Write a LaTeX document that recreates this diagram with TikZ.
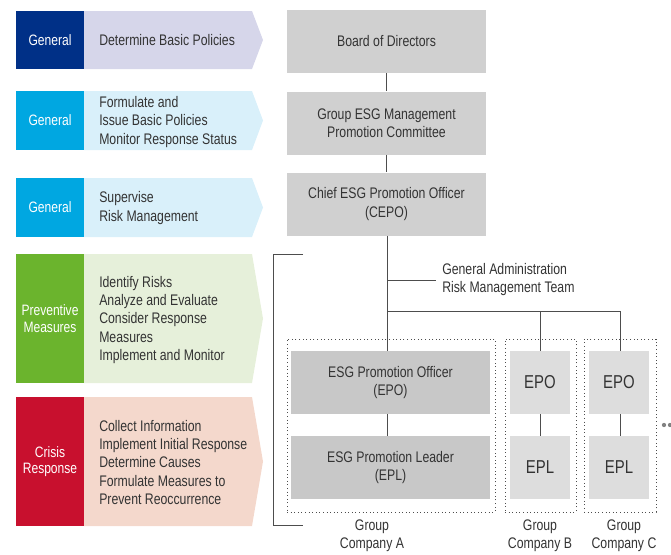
\documentclass[tikz,border=0pt]{standalone}
\usepackage{fontspec}
\setmainfont{Liberation Sans}[FakeStretch=0.8]
\usepackage{xcolor}
\usepackage{tikz}
\usetikzlibrary{positioning}
\definecolor{generalnavy}{RGB}{0, 48, 135}
\definecolor{generalcyan}{RGB}{0, 167, 225}
\definecolor{preventgreen}{RGB}{107, 180, 45}
\definecolor{crisisred}{RGB}{200, 16, 46}
\definecolor{navylight}{RGB}{214, 214, 234}
\definecolor{cyanlight}{RGB}{217, 240, 250}
\definecolor{greenlight}{RGB}{230, 240, 218}
\definecolor{redlight}{RGB}{244, 216, 204}
\definecolor{boxgray}{RGB}{208, 208, 208}
\definecolor{darkboxgray}{RGB}{200, 200, 200}
\definecolor{lightboxgray}{RGB}{221, 221, 221}
\definecolor{linegray}{RGB}{77, 77, 77}
\definecolor{textgray}{RGB}{51, 51, 51}

\begin{document}
\begin{tikzpicture}[
        x=0.75pt, y=-0.75pt,
        tag/.style={rectangle, minimum width=51pt, inner sep=0pt, text=white, align=center,
            font=\fontsize{11.3}{12.6}\selectfont},
        duty/.style={anchor=west, inner sep=0pt, text=textgray, align=left,
            font=\fontsize{11.5}{13.75}\selectfont},
        orgbox/.style={rectangle, fill=boxgray, minimum width=149.25pt, minimum height=47.25pt,
            inner sep=0pt, text=textgray, align=center, font=\fontsize{11.5}{13.75}\selectfont},
        subbox/.style={rectangle, minimum height=47.25pt, inner sep=0pt, text=textgray, align=center},
        company/.style={rectangle, draw=linegray, dotted, line width=0.7pt, minimum height=129.75pt},
        link/.style={draw=linegray, line width=0.75pt}
    ]
    \useasboundingbox (0,0) rectangle (671,554);

    % Arrow bands on the left
    \foreach \t/\b/\c in {11/69/navylight, 91/150/cyanlight, 178/237/cyanlight,
                          254/383/greenlight, 397/526/redlight} {
        \fill[\c] (84,\t) -- (252,\t) -- (263,{(\t+\b)/2}) -- (252,\b) -- (84,\b) -- cycle;
    }

    % Phase tags
    \node[tag, fill=generalnavy, minimum height=43.5pt] (t1) at (50,40) {General};
    \node[tag, fill=generalcyan, minimum height=44.25pt] (t2) at (50,120.5) {General};
    \node[tag, fill=generalcyan, minimum height=44.25pt] (t3) at (50,207.5) {General};
    \node[tag, fill=preventgreen, minimum height=96.75pt] (t4) at (50,318.5) {Preventive\\Measures};
    \node[tag, fill=crisisred, minimum height=96.75pt] (t5) at (50,461.5) {Crisis\\Response};

    % Duties
    \node[duty] (d1) at (99,40.5) {Determine Basic Policies};
    \node[duty] (d2) at (99,122) {Formulate and\\Issue Basic Policies\\Monitor Response Status};
    \node[duty] (d3) at (99,208) {Supervise\\Risk Management};
    \node[duty] (d4) at (99,320) {Identify Risks\\Analyze and Evaluate\\Consider Response\\Measures\\Implement and Monitor};
    \node[duty] (d5) at (99,462.5) {Collect Information\\Implement Initial Response\\Determine Causes\\Formulate Measures to\\Prevent Reoccurrence};

    % Group level
    \node[orgbox] (bod) at (386.5,41.5) {Board of Directors};
    \node[orgbox] (gesg) at (386.5,123) {Group ESG Management\\Promotion Committee};
    \node[orgbox] (cepo) at (386.5,204) {Chief ESG Promotion Officer\\(CEPO)};

    % Group companies
    \node[company, minimum width=156pt] (grpA) at (391,425.5) {};
    \node[company, minimum width=53.25pt] (grpB) at (540.5,425.5) {};
    \node[company, minimum width=54pt] (grpC) at (620,425.5) {};

    \node[subbox, fill=darkboxgray, minimum width=149.25pt, font=\fontsize{11.5}{13.75}\selectfont]
        (epoA) at (390.5,382.5) {ESG Promotion Officer\\(EPO)};
    \node[subbox, fill=darkboxgray, minimum width=149.25pt, font=\fontsize{11.5}{13.75}\selectfont]
        (eplA) at (390.5,467.5) {ESG Promotion Leader\\(EPL)};
    \node[subbox, fill=lightboxgray, minimum width=45pt, font=\fontsize{14}{16}\selectfont]
        (epoB) at (540,382.5) {EPO};
    \node[subbox, fill=lightboxgray, minimum width=45pt, font=\fontsize{14}{16}\selectfont]
        (eplB) at (540,467.5) {EPL};
    \node[subbox, fill=lightboxgray, minimum width=45pt, font=\fontsize{14}{16}\selectfont]
        (epoC) at (619,382.5) {EPO};
    \node[subbox, fill=lightboxgray, minimum width=45pt, font=\fontsize{14}{16}\selectfont]
        (eplC) at (619,467.5) {EPL};

    \node[duty, anchor=north west] (gart) at (442,263) {General Administration\\Risk Management Team};

    \node[text=textgray, align=center, font=\fontsize{11.5}{13.75}\selectfont] (labA) at (372,536) {Group\\Company A};
    \node[text=textgray, align=center, font=\fontsize{11.5}{13.75}\selectfont] (labB) at (540,536) {Group\\Company B};
    \node[text=textgray, align=center, font=\fontsize{11.5}{13.75}\selectfont] (labC) at (624,536) {Group\\Company C};

    % Connectors
    \coordinate (j1) at (387,280);
    \coordinate (j2) at (387,311);
    \coordinate (gaend) at (436,280);
    \draw[link] (bod) -- (gesg);
    \draw[link] (gesg) -- (cepo);
    \draw[link] (cepo.south -| j1) -- (j1 |- epoA.north);
    \draw[link] (j1) -- (gaend);
    \draw[link] (j2) -| (epoB.north);
    \draw[link] (j2) -| (620,351);
    \draw[link] (epoA.south -| j1) -- (eplA.north -| j1);
    \draw[link] (epoB) -- (eplB);
    \draw[link] (epoC.south -| 620,0) -- (eplC.north -| 620,0);

    % Bracket
    \draw[link] (303,254) -- (273,254) -- (273,525) -- (303,525);

    % More companies
    \foreach \x in {664,670,676} {
        \fill[linegray!70] (\x,425) circle (1.6pt);
    }
\end{tikzpicture}
\end{document}
